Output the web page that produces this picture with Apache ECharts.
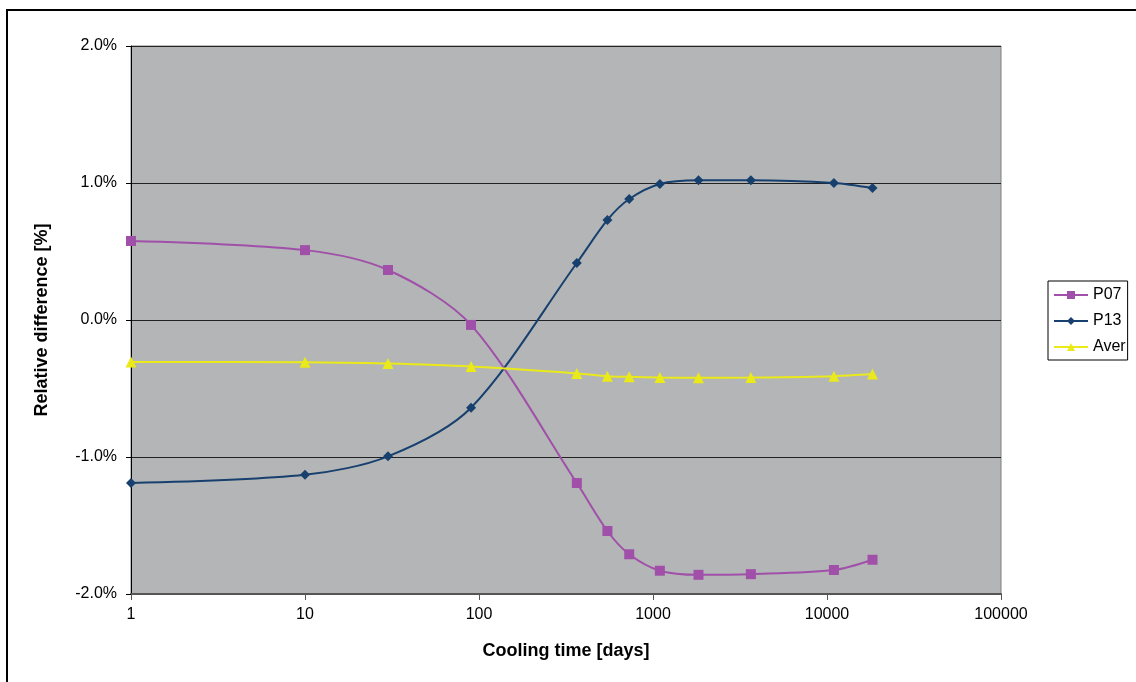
<!DOCTYPE html>
<html><head><meta charset="utf-8">
<script src="https://cdn.jsdelivr.net/npm/echarts@6/dist/echarts.min.js"></script>
<style>html,body{margin:0;padding:0;background:#fff}#c{width:1136px;height:682px}</style>
</head><body><div id="c"></div>
<script>
const days = [1, 10, 30, 90, 365, 547, 730, 1095, 1826, 3652, 10957, 18262];
const p07 = [0.577, 0.51, 0.365, -0.036, -1.19, -1.54, -1.71, -1.83, -1.86, -1.855, -1.825, -1.75];
const p13 = [-1.19, -1.13, -0.995, -0.64, 0.416, 0.73, 0.883, 0.993, 1.02, 1.02, 1.0, 0.963];
const aver = [-0.307, -0.308, -0.318, -0.34, -0.39, -0.41, -0.415, -0.42, -0.422, -0.42, -0.41, -0.395];
const seriesNames = ['P07', 'P13', 'Aver'];

const pair = arr => days.map((d, i) => [d, arr[i]]);
const chart = echarts.init(document.getElementById('c'));
const font = '"Liberation Sans", Arial, sans-serif';
chart.setOption({
  animation: false,
  textStyle: { fontFamily: font },
  graphic: [{
    type: 'rect', silent: true, z: -10,
    shape: { x: 7, y: 10, width: 1400, height: 1000 },
    style: { fill: 'none', stroke: '#000', lineWidth: 2 }
  }],
  grid: { left: 131, right: 135, top: 46, bottom: 88, show: true, backgroundColor: '#b4b5b7', borderColor: '#808080', borderWidth: 1 },
  legend: {
    orient: 'vertical', left: 1048, top: 281,
    data: seriesNames,
    borderColor: '#000', borderWidth: 1, padding: [6, 2, 5, 5],
    itemGap: 10, itemWidth: 34, itemHeight: 10,
    textStyle: { fontSize: 16, color: '#000', fontFamily: font }
  },
  xAxis: {
    type: 'log', logBase: 10, min: 1, max: 100000,
    name: 'Cooling time [days]', nameLocation: 'middle', nameGap: 48,
    nameTextStyle: { fontSize: 18, fontWeight: 'bold', color: '#000' },
    axisLine: { onZero: false, lineStyle: { color: '#555', width: 2 } },
    axisTick: { show: true, length: 6, lineStyle: { color: '#555' } },
    axisLabel: { fontSize: 16, color: '#000', margin: 13, formatter: v => String(Math.round(v)) },
    splitLine: { show: false }, minorTick: { show: false }
  },
  yAxis: {
    type: 'value', min: -2, max: 2, interval: 1,
    name: 'Relative difference [%]', nameLocation: 'middle', nameGap: 80,
    nameTextStyle: { fontSize: 18, fontWeight: 'bold', color: '#000' },
    axisLine: { show: true, lineStyle: { color: '#000', width: 1 } },
    axisTick: { show: true, length: 5, lineStyle: { color: '#000' } },
    axisLabel: { fontSize: 16, color: '#000', margin: 14, formatter: v => v.toFixed(1) + '%' },
    splitLine: { show: true, lineStyle: { color: '#222', width: 1 } }
  },
  series: [
    { name: 'P07', type: 'line', data: pair(p07), smooth: 0.3, symbol: 'rect', symbolSize: 10,
      itemStyle: { color: '#a050a8' }, lineStyle: { color: '#a050a8', width: 2 } },
    { name: 'P13', type: 'line', data: pair(p13), smooth: 0.3, symbol: 'diamond', symbolSize: 10,
      itemStyle: { color: '#17406e' }, lineStyle: { color: '#17406e', width: 2 } },
    { name: 'Aver', type: 'line', data: pair(aver), smooth: 0.3, symbol: 'triangle', symbolSize: 11,
      itemStyle: { color: '#eaea1a' }, lineStyle: { color: '#eaea1a', width: 2 } }
  ]
});
</script></body></html>
